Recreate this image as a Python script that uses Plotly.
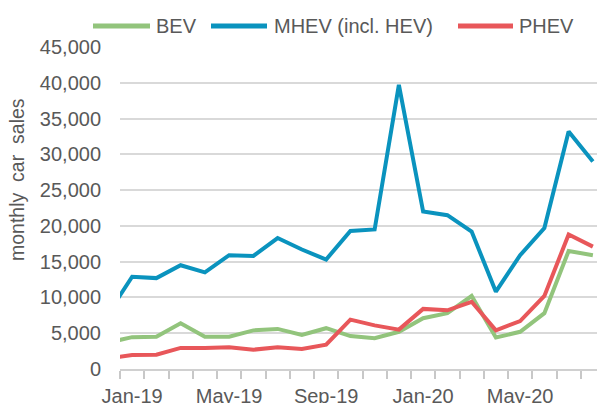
import plotly.graph_objects as go

# months Dec-18 .. Aug-20 (Dec-18 sits left of the visible range, clipped)
months = ["Dec-18", "Jan-19", "Feb-19", "Mar-19", "Apr-19", "May-19", "Jun-19", "Jul-19",
          "Aug-19", "Sep-19", "Oct-19", "Nov-19", "Dec-19", "Jan-20", "Feb-20", "Mar-20",
          "Apr-20", "May-20", "Jun-20", "Jul-20", "Aug-20"]
bev = [3700, 4450, 4500, 6400, 4500, 4500, 5400, 5600, 4750, 5700, 4600, 4300, 5200,
       7100, 7800, 10200, 4400, 5200, 7800, 16500, 15900]
mhev = [7700, 12900, 12700, 14500, 13500, 15900, 15800, 18300, 16700, 15300, 19300, 19500,
        39700, 22000, 21500, 19200, 10800, 15900, 19700, 33200, 29000]
phev = [1500, 1950, 2000, 2950, 2950, 3050, 2700, 3050, 2800, 3400, 6900, 6100, 5500,
        8400, 8200, 9400, 5400, 6700, 10200, 18800, 17100]
tick_months = ["Jan-19", "May-19", "Sep-19", "Jan-20", "May-20"]

series = [("BEV", bev, "#92c47c"), ("MHEV (incl. HEV)", mhev, "#0a93be"), ("PHEV", phev, "#e8575a")]
FONT = "Liberation Sans, Arial, sans-serif"
GREY = "#595959"

x = list(range(-1, len(months) - 1))  # Jan-19 -> 0
fig = go.Figure()
for name, vals, col in series:
    fig.add_trace(go.Scatter(x=x, y=vals, mode="lines", name=name,
                             line=dict(color=col, width=4), showlegend=False,
                             hoverinfo="skip"))

# plot-area geometry in px, used for the hand-made legend
W, H = 597, 403
L, R, T, B = 120, 0, 47, 34
pw, ph = W - L - R, H - T - B


def px_x(p):
    return (p - L) / pw


def px_y(p):
    return (H - B - p) / ph


legend = [("BEV", 93, 150, 154), ("MHEV (incl. HEV)", 211, 267, 272), ("PHEV", 458, 513, 517)]
shapes, annos = [], []
for (name, x0, x1, tx), (_, _, col) in zip(legend, series):
    shapes.append(dict(type="line", xref="paper", yref="paper", x0=px_x(x0), x1=px_x(x1),
                       y0=px_y(26), y1=px_y(26), line=dict(color=col, width=5)))
    annos.append(dict(text=name, xref="paper", yref="paper", x=px_x(tx), y=px_y(26),
                      xanchor="left", yanchor="middle", showarrow=False,
                      font=dict(size=20, color=GREY, family=FONT)))
annos.append(dict(text="monthly  car  sales", xref="paper", yref="paper", x=px_x(17), y=px_y(180),
                  textangle=-90, showarrow=False, xanchor="center", yanchor="middle",
                  font=dict(size=19.5, color=GREY, family=FONT)))

fig.update_layout(
    width=W, height=H,
    margin=dict(l=L, r=R, t=T, b=B),
    paper_bgcolor="white", plot_bgcolor="white",
    font=dict(family=FONT, size=20, color=GREY),
    shapes=shapes, annotations=annos,
    xaxis=dict(range=[-0.5, 19.17], tickvals=[months.index(m) - 1 for m in tick_months],
               ticktext=tick_months, ticks="", showgrid=False, showline=True,
               linecolor="#d0d0d0", linewidth=2, zeroline=False, automargin=False,
               minor=dict(ticks="outside", ticklen=8, tickcolor="#c8c8c8", tickwidth=2,
                          tick0=-0.5, dtick=1, showgrid=False),
               tickfont=dict(size=20, color=GREY), ticklabelstandoff=8),
    yaxis=dict(range=[0, 45000], dtick=5000, tickformat=",d", showgrid=True,
               gridcolor="#d9d9d9", gridwidth=2, zeroline=False, showline=False,
               automargin=False, ticks="", ticklabelstandoff=18,
               tickfont=dict(size=20, color=GREY)),
)
# drop the browser's default 8px body margin so the figure fills the window
fig.write_html("out.html", config={"displayModeBar": False},
               post_script="document.body.style.margin='0';")
